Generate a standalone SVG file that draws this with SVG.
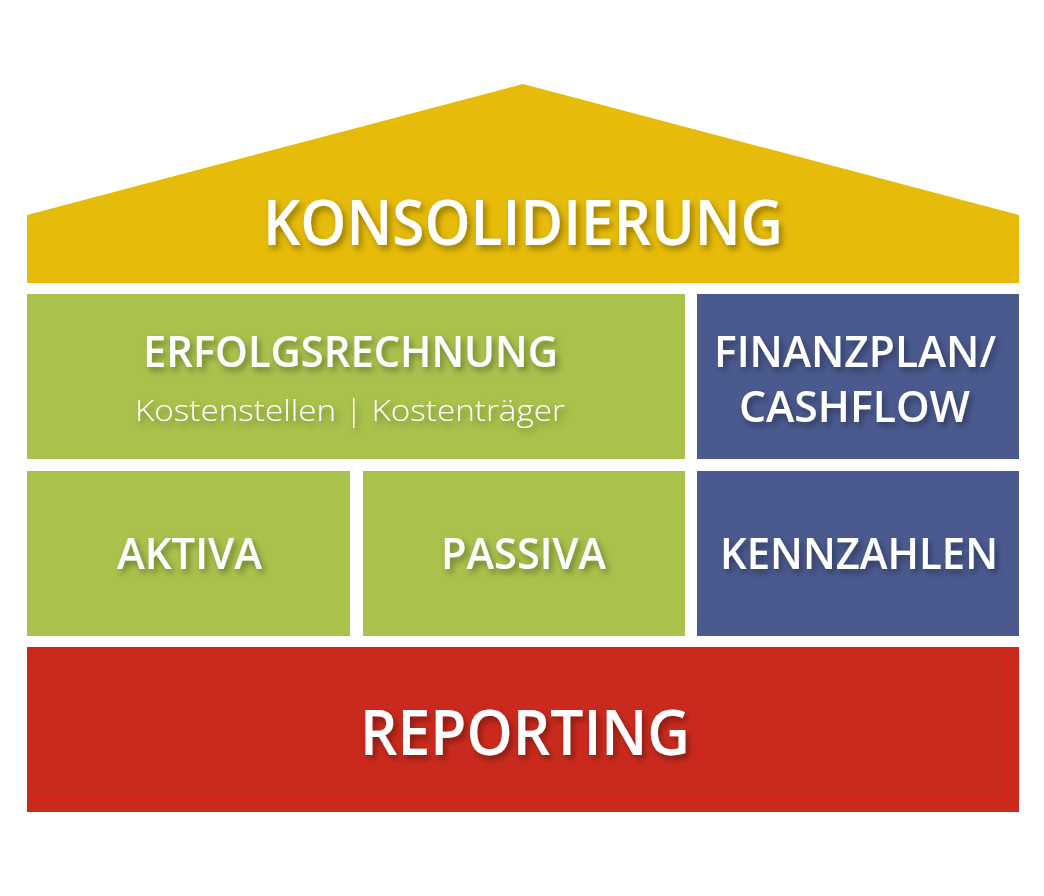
<svg xmlns="http://www.w3.org/2000/svg" width="1044" height="896" viewBox="0 0 1044 896">
<defs>
<filter id="sh" x="-10%" y="-30%" width="120%" height="160%">
<feDropShadow dx="3" dy="4" stdDeviation="3" flood-color="#000" flood-opacity="0.35"/>
</filter>
<style>
.t{font-family:"Open Sans","Liberation Sans",sans-serif;font-weight:600;fill:#fff;text-anchor:middle;filter:url(#sh)}
.s{font-family:"Open Sans","Liberation Sans",sans-serif;font-weight:300;fill:#fff;text-anchor:middle;filter:url(#sh)}
.y{fill:#E6BB09}.g{fill:#A8C24C}.b{fill:#4A5A8F}.r{fill:#CA2A1D}
</style>
</defs>
<rect width="1044" height="896" fill="#fff"/>
<g id="konsolidierung">
<polygon class="y" points="27,215 523,84 1019,215 1019,283 27,283"/>
<text class="t" x="523" y="245" font-size="64" textLength="520" lengthAdjust="spacingAndGlyphs">KONSOLIDIERUNG</text>
</g>
<g id="erfolgsrechnung">
<rect class="g" x="27" y="294" width="658" height="165"/>
<text class="t" x="350.5" y="367" font-size="44" textLength="415" lengthAdjust="spacingAndGlyphs">ERFOLGSRECHNUNG</text>
<text class="s" x="350" y="421" font-size="30" textLength="430" lengthAdjust="spacingAndGlyphs">Kostenstellen | Kostenträger</text>
</g>
<g id="finanzplan">
<rect class="b" x="697" y="294" width="322" height="165"/>
<text class="t" x="855" y="367" font-size="43" textLength="282" lengthAdjust="spacingAndGlyphs">FINANZPLAN/</text>
<text class="t" x="854.5" y="422" font-size="43" textLength="231" lengthAdjust="spacingAndGlyphs">CASHFLOW</text>
</g>
<g id="aktiva">
<rect class="g" x="27" y="471" width="323" height="165"/>
<text class="t" x="189.5" y="569" font-size="43" textLength="145" lengthAdjust="spacingAndGlyphs">AKTIVA</text>
</g>
<g id="passiva">
<rect class="g" x="363" y="471" width="322" height="165"/>
<text class="t" x="523.5" y="569" font-size="43" textLength="165" lengthAdjust="spacingAndGlyphs">PASSIVA</text>
</g>
<g id="kennzahlen">
<rect class="b" x="697" y="471" width="322" height="165"/>
<text class="t" x="859" y="569" font-size="43" textLength="278" lengthAdjust="spacingAndGlyphs">KENNZAHLEN</text>
</g>
<g id="reporting">
<rect class="r" x="27" y="647" width="992" height="165"/>
<text class="t" x="525" y="755" font-size="64" textLength="330" lengthAdjust="spacingAndGlyphs">REPORTING</text>
</g>
<g id="connectors"/>
</svg>
